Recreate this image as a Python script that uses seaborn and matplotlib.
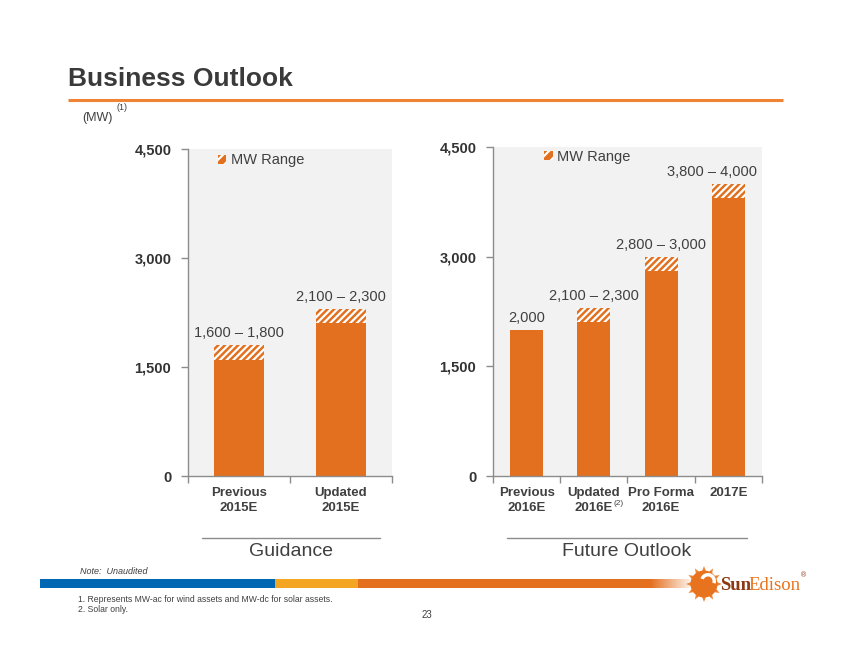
import numpy as np
import pandas as pd
import matplotlib
matplotlib.use("Agg")
import matplotlib.pyplot as plt
from matplotlib.patches import Patch, Rectangle, Circle, Wedge, Polygon
from matplotlib.colors import LinearSegmentedColormap
import seaborn as sns

# ---------------- data ----------------
guid_cats = ["Previous\n2015E", "Updated\n2015E"]
guid_low = [1600, 2100]
guid_high = [1800, 2300]
guid_labels = ["1,600 \u2013 1,800", "2,100 \u2013 2,300"]

fut_cats = ["Previous\n2016E", "Updated\n2016E", "Pro Forma\n2016E", "2017E"]
fut_low = [2000, 2100, 2800, 3800]
fut_high = [2000, 2300, 3000, 4000]
fut_labels = ["2,000", "2,100 \u2013 2,300", "2,800 \u2013 3,000", "3,800 \u2013 4,000"]

y_ticks = [0, 1500, 3000, 4500]
y_ticklabels = ["0", "1,500", "3,000", "4,500"]

# ---------------- style ----------------
sns.set_theme(style="white")
plt.rcParams["font.family"] = ["Liberation Sans", "DejaVu Sans"]
plt.rcParams["hatch.linewidth"] = 1.6

ORANGE = "#E2701E"
BG = "#F2F2F2"
TXT = "#404040"
GRAY = "#8C8C8C"
HATCH = "/////"

W, H = 854, 660
fig = plt.figure(figsize=(W / 100, H / 100), dpi=100)

deco = fig.add_axes([0, 0, 1, 1], zorder=-5)
deco.axis("off")


def panel(rect, cats, low, high, labels, legend_xy):
    ax = fig.add_axes(rect)
    ax.set_facecolor(BG)
    df = pd.DataFrame({"cat": cats, "low": low, "high": high})
    sns.barplot(data=df, x="cat", y="high", ax=ax, color=ORANGE, saturation=1,
                width=0.49, hatch=HATCH, edgecolor="white", linewidth=0)
    sns.barplot(data=df, x="cat", y="low", ax=ax, color=ORANGE, saturation=1,
                width=0.49, edgecolor=ORANGE, linewidth=0)
    n = len(cats)
    ax.set_xlim(-0.5, n - 0.5)
    ax.set_ylim(0, 4500)
    ax.set_xlabel("")
    ax.set_ylabel("")
    for s in ["top", "right"]:
        ax.spines[s].set_visible(False)
    for s in ["left", "bottom"]:
        ax.spines[s].set_color(GRAY)
        ax.spines[s].set_linewidth(1.0)
    ax.set_yticks(y_ticks)
    ax.set_yticklabels(y_ticklabels, fontsize=10.5, fontweight="bold", color="#333333")
    ax.tick_params(axis="y", which="major", direction="out", length=5, width=1,
                   color=GRAY, pad=7, left=True)
    ax.set_xticks(range(n))
    ax.set_xticklabels(cats, fontsize=9.5, fontweight="bold", color=TXT, linespacing=1.35)
    ax.tick_params(axis="x", which="major", length=0, pad=8)
    ax.set_xticks(np.arange(-0.5, n, 1.0), minor=True)
    ax.tick_params(axis="x", which="minor", direction="out", length=5, width=1,
                   color=GRAY, bottom=True)
    for i, (hv, lab) in enumerate(zip(high, labels)):
        dx = -12 if (i == n - 1 and n == 4) else 0
        ax.annotate(lab, xy=(i, hv), xytext=(dx, 3.5), textcoords="offset points",
                    ha="center", va="bottom", fontsize=10.5, color=TXT)
    h = Patch(facecolor=ORANGE, hatch="///", edgecolor="white", linewidth=0)
    leg = ax.legend([h], ["MW Range"], loc="center left", bbox_to_anchor=legend_xy,
                    frameon=False, fontsize=10.5, handlelength=0.6, handleheight=0.6,
                    handletextpad=0.3, borderpad=0, borderaxespad=0)
    for t in leg.get_texts():
        t.set_color(TXT)
    return ax


axL = panel([188 / W, 1 - 476 / H, 204 / W, 327 / H], guid_cats, guid_low, guid_high,
            guid_labels, (0.145, 0.965))
axR = panel([493 / W, 1 - 476 / H, 269 / W, 329 / H], fut_cats, fut_low, fut_high,
            fut_labels, (0.19, 0.97))

axR.annotate("(2)", xy=(1, 0), xycoords=("data", "axes fraction"), xytext=(14, -20),
             textcoords="offset points", fontsize=6, color=TXT, ha="left", va="center")

# ---------------- title area ----------------
deco.text(68, 79, "Business Outlook", fontsize=19, fontweight="bold", color="#3A3A3A",
          ha="left", va="center")
deco.plot([68, 783], [100, 100], color="#EE8434", lw=2.2, solid_capstyle="butt")
deco.text(82, 118, "(MW)", fontsize=9, color=TXT, ha="left", va="center")
deco.text(117, 108, "(1)", fontsize=6.5, color=TXT, ha="left", va="center")

# ---------------- group brackets ----------------
deco.plot([202, 380], [538, 538], color=GRAY, lw=1)
deco.plot([507, 747], [538, 538], color=GRAY, lw=1)
deco.text(291, 551, "Guidance", fontsize=14, color=TXT, ha="center", va="center")
deco.text(627, 551, "Future Outlook", fontsize=14, color=TXT, ha="center", va="center")

# ---------------- footer ----------------
deco.text(80, 572, "Note:  Unaudited", fontsize=6.5, style="italic", color=TXT,
          ha="left", va="center")
deco.add_patch(Rectangle((40, 579), 235, 9, color="#0068B3", lw=0))
deco.add_patch(Rectangle((275, 579), 83, 9, color="#F4A622", lw=0))
deco.add_patch(Rectangle((358, 579), 292, 9, color="#E46F1F", lw=0))
grad = np.linspace(0, 1, 100)[None, :]
cm = LinearSegmentedColormap.from_list("fade", ["#E46F1F", "#FFFFFF"])
deco.imshow(grad, cmap=cm, extent=(650, 695, 588, 579), aspect="auto", zorder=1)

deco.text(78, 599, "1. Represents MW-ac for wind assets and MW-dc for solar assets.",
          fontsize=6.2, color=TXT, ha="left", va="center")
deco.text(78, 609, "2. Solar only.", fontsize=6.2, color=TXT, ha="left", va="center")
deco.text(427, 615, "23", fontsize=7, color=TXT, ha="center", va="center")

# logo
cx, cy = 704, 584
for ang in np.arange(0, 360, 30):
    a = np.deg2rad(ang)
    p1 = (cx + 13 * np.cos(a - 0.15), cy - 13 * np.sin(a - 0.15))
    p2 = (cx + 13 * np.cos(a + 0.15), cy - 13 * np.sin(a + 0.15))
    p3 = (cx + 18 * np.cos(a), cy - 18 * np.sin(a))
    deco.add_patch(Polygon([p1, p2, p3], closed=True, color="#EE8434", lw=0))
deco.add_patch(Circle((cx, cy), 13.5, color="#E8731E", lw=0))
deco.add_patch(Wedge((cx + 4, cy - 3), 8, 200, 20, width=3.5, color="white", lw=0))
deco.text(720, 586, "Sun", fontsize=13.5, fontweight="bold",
          family=["Liberation Serif", "DejaVu Serif"],
          color="#8A3A12", ha="left", va="center")
deco.text(748, 586, "Edison", fontsize=13.5, family=["Liberation Serif", "DejaVu Serif"],
          color="#E8731E", ha="left", va="center")
deco.text(801, 576, "\u00ae", fontsize=5, color="#8A3A12", ha="left", va="center")

deco.set_xlim(0, W)
deco.set_ylim(H, 0)

fig.savefig("out.png", dpi=100)
